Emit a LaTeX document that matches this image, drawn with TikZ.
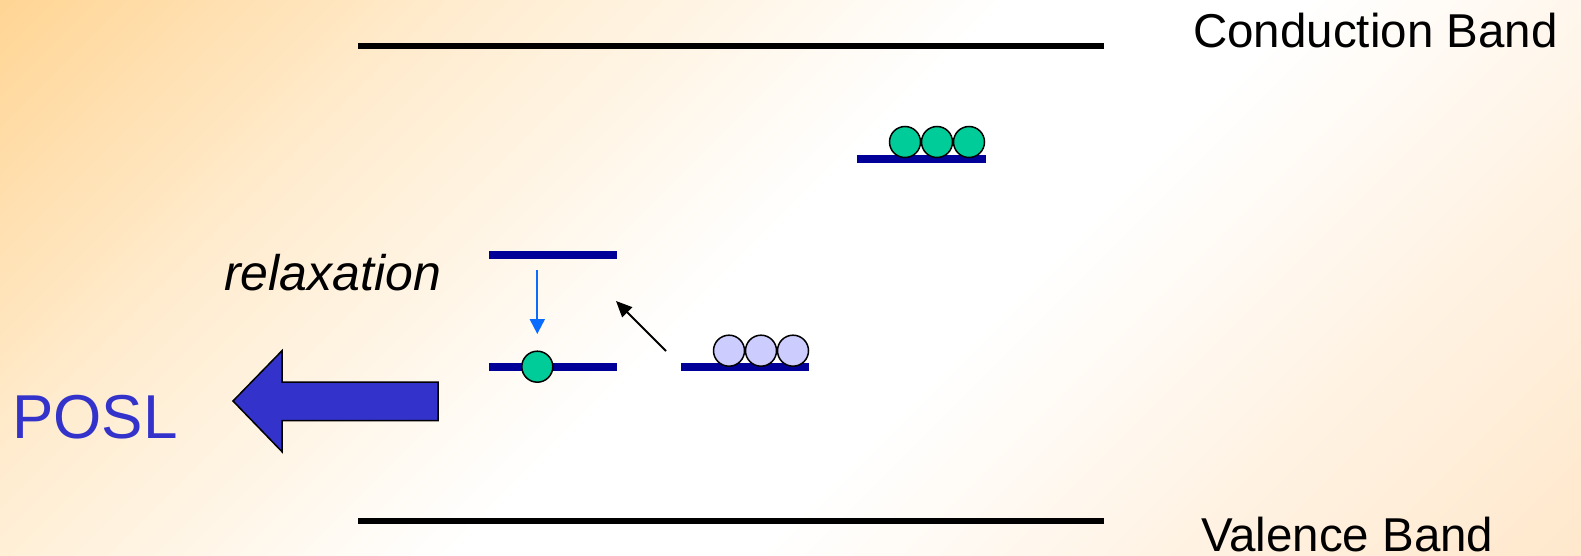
\documentclass[tikz,border=0pt]{standalone}
\usepackage{fontspec}
\setmainfont{Liberation Sans}
\usetikzlibrary{arrows.meta}
\definecolor{bgorange}{HTML}{FFD595}
\definecolor{bgpeach}{HTML}{FFE8CC}
\definecolor{levelblue}{HTML}{000099}
\definecolor{elecgreen}{HTML}{00CC99}
\definecolor{holelav}{HTML}{CCCCFF}
\definecolor{relaxblue}{HTML}{0A6CFF}
\definecolor{poslblue}{HTML}{3333CC}
\pgfdeclarehorizontalshading{slidebg}{100bp}{%
  color(0bp)=(bgorange); color(14.6bp)=(bgorange); color(30bp)=(bgorange!45!white);
  color(48bp)=(white); color(58bp)=(white); color(72bp)=(bgpeach!55!white);
  color(85.4bp)=(bgpeach); color(100bp)=(bgpeach)}
\tikzset{
  band/.style={line width=6pt, black},
  level/.style={line width=8pt, levelblue},
  electron/.style={circle, draw=black, line width=1.5pt, fill=elecgreen, minimum size=31pt, inner sep=0pt},
  hole/.style={circle, draw=black, line width=1.5pt, fill=holelav, minimum size=31pt, inner sep=0pt},
  lbl/.style={anchor=base west, inner sep=0pt, font=\fontsize{47.5}{50}\selectfont},
}
\begin{document}
\begin{tikzpicture}[x=1pt, y=-1pt]
\useasboundingbox (0,0) rectangle (1581,556);
\shade[shading=slidebg, shading angle=-45] (0,0) rectangle (1581,556);
% bands
\coordinate (cbL) at (358,46); \coordinate (cbR) at (1104,46);
\coordinate (vbL) at (358,521); \coordinate (vbR) at (1104,521);
\draw[band] (cbL) -- (cbR);
\draw[band] (vbL) -- (vbR);
\node[lbl] (cbtext) at (1193,48) {Conduction Band};
\node[lbl] (vbtext) at (1201,551) {Valence Band};
% levels
\coordinate (l1L) at (857,159); \coordinate (l1R) at (986,159);
\coordinate (l2L) at (489,254.7); \coordinate (l2R) at (617,254.7);
\coordinate (l3L) at (489,366.7); \coordinate (l3R) at (617,366.7);
\coordinate (l4L) at (681,366.7); \coordinate (l4R) at (809,366.7);
\draw[level] (l1L) -- (l1R);
\draw[level] (l2L) -- (l2R);
\draw[level] (l3L) -- (l3R);
\draw[level] (l4L) -- (l4R);
% electrons on upper trap
\node[electron] (e1) at (905,142) {};
\node[electron] (e2) at (937,142) {};
\node[electron] (e3) at (969,142) {};
% holes
\node[hole] (h1) at (729,350.7) {};
\node[hole] (h2) at (761,350.7) {};
\node[hole] (h3) at (793,350.7) {};
% recombination centre electron
\node[electron] (e4) at (537.3,366.7) {};
% relaxation arrow
\coordinate (ra) at (537.3,270); \coordinate (rb) at (537.3,334);
\draw[relaxblue, line width=2pt, -{Triangle[length=15pt,width=15pt]}] (ra) -- (rb);
% hole transfer arrow
\coordinate (ha) at (666,351); \coordinate (hb) at (616,301);
\draw[black, line width=2pt, -{Triangle[length=16pt,width=14pt]}] (ha) -- (hb);
\node[lbl, font=\fontsize{50}{52}\selectfont\itshape] (relax) at (224,290) {relaxation};
% POSL arrow
\draw[fill=poslblue, draw=black, line width=1.5pt, line join=miter]
  (233,401) -- (282,350.7) -- (282,382) -- (438,382) -- (438,420.7) -- (282,420.7) -- (282,451.7) -- cycle;
\node[lbl, font=\fontsize{62}{64}\selectfont, text=poslblue] (posl) at (12,438) {POSL};
\end{tikzpicture}
\end{document}
